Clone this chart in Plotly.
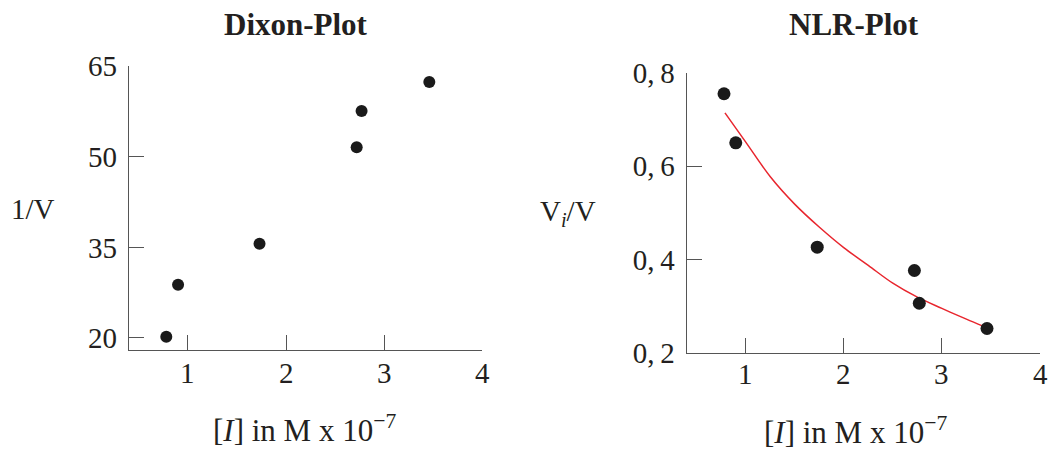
import plotly.graph_objects as go

# Inhibitor concentration [I] (x 10^-7 M), shared by both plots
inhibitor = [0.78, 0.90, 1.73, 2.72, 2.77, 3.46]

# Dixon plot: reciprocal velocity
recip_v = [20.2, 28.8, 35.6, 51.6, 57.6, 62.4]

# NLR plot: fractional velocity Vi/V
vi_over_v = [0.755, 0.650, 0.427, 0.377, 0.307, 0.253]

# Non-linear regression curve through the Vi/V data
fit_x = [0.79, 1.0, 1.25, 1.5, 1.75, 2.0, 2.25, 2.5, 2.75, 3.0, 3.25, 3.42]
fit_y = [0.714, 0.652, 0.578, 0.519, 0.470, 0.426, 0.388, 0.350, 0.320, 0.296, 0.273, 0.258]

# Tick labels
dixon_yticks = [20, 35, 50, 65]
nlr_yticks = [0.2, 0.4, 0.6, 0.8]
nlr_yticktext = ["0,\u20092", "0,\u20094", "0,\u20096", "0,\u20098"]
x_ticks = [1, 2, 3, 4]
x_ticktext = ["1", "2", "3", "4"]

SERIF = "Liberation Serif"
INK = "#231f20"
AXIS = "#555555"
W, H = 1051, 451

fig = go.Figure()

fig.add_trace(go.Scatter(
    x=inhibitor, y=recip_v, mode="markers",
    marker=dict(size=12, color="#1a1a1a"),
    xaxis="x", yaxis="y", showlegend=False,
))
fig.add_trace(go.Scatter(
    x=fit_x, y=fit_y, mode="lines", line=dict(color="#e8262e", width=1.5, shape="spline"),
    xaxis="x2", yaxis="y2", showlegend=False,
))
fig.add_trace(go.Scatter(
    x=inhibitor, y=vi_over_v, mode="markers",
    marker=dict(size=13, color="#1a1a1a"),
    xaxis="x2", yaxis="y2", showlegend=False,
))

axis_common = dict(
    showline=True, linecolor=AXIS, linewidth=1.3,
    ticks="inside", ticklen=15, tickwidth=1.3, tickcolor=AXIS,
    showgrid=False, zeroline=False, mirror=False, automargin=False,
    tickfont=dict(family=SERIF, size=29, color=INK),
)

def px_x(p):
    return p / W

def px_y(p):
    return (H - p) / H

fig.update_layout(
    width=W, height=H,
    margin=dict(l=0, r=0, t=0, b=0, pad=0, autoexpand=False),
    paper_bgcolor="white", plot_bgcolor="white",
    xaxis=dict(domain=[px_x(129), px_x(482.3)], range=[0.4, 4.0], anchor="y",
               tickvals=x_ticks, showticklabels=False, **axis_common),
    yaxis=dict(domain=[px_y(350.3), px_y(66.3)], range=[17.96, 65], anchor="x",
               tickvals=dixon_yticks, ticklabelstandoff=5, **axis_common),
    xaxis2=dict(domain=[px_x(686.7), px_x(1040)], range=[0.4, 4.0], anchor="y2",
                tickvals=x_ticks, showticklabels=False, **axis_common),
    yaxis2=dict(domain=[px_y(353.3), px_y(72.7)], range=[0.2, 0.8], anchor="x2",
                tickvals=nlr_yticks, ticktext=nlr_yticktext, ticklabelstandoff=5,
                **axis_common),
)

def label(text, cx, cy, size=29, bold=False):
    fig.add_annotation(
        text=f"<b>{text}</b>" if bold else text,
        x=px_x(cx), y=px_y(cy), xref="paper", yref="paper",
        xanchor="center", yanchor="middle", showarrow=False,
        font=dict(family=SERIF, size=size, color=INK),
    )

# x tick labels placed on the data axis, just under each axis line
for xref, cy in (("x", 372.5), ("x2", 374)):
    for v, t in zip(x_ticks, x_ticktext):
        fig.add_annotation(
            text=t, x=v, xref=xref, y=px_y(cy), yref="paper",
            xanchor="center", yanchor="middle", showarrow=False,
            font=dict(family=SERIF, size=29, color=INK),
        )

label("Dixon-Plot", 295.5, 25, size=31, bold=True)
label("NLR-Plot", 853.8, 25, size=31, bold=True)
label("1/V", 32.5, 209)
label("V<sub><i>i</i></sub>/V", 568.3, 213)
label("[<i>I</i>] in M x 10<sup>\u22127</sup>", 304.7, 428, size=31)
label("[<i>I</i>] in M x 10<sup>\u22127</sup>", 855.5, 430, size=31)

fig.write_html("out.html")
